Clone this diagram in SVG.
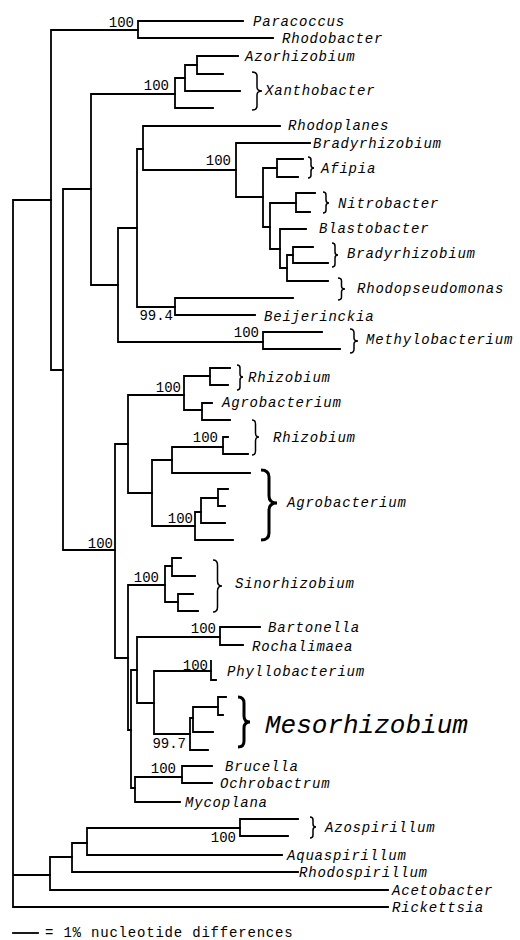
<svg xmlns="http://www.w3.org/2000/svg" width="520" height="940" viewBox="0 0 520 940">
<style>
.br{fill:none;stroke:#000;stroke-width:1.8;stroke-linecap:square;stroke-linejoin:miter}
.bc{fill:none;stroke:#000;stroke-width:1.5}
.bb{fill:none;stroke:#000;stroke-width:3}
.lb{font-family:"Liberation Mono","DejaVu Sans Mono",monospace;font-style:italic;font-size:14px;letter-spacing:0.8px;fill:#000}
.big{font-family:"Liberation Mono","DejaVu Sans Mono",monospace;font-style:italic;font-size:26px;fill:#000}
.bs{font-family:"Liberation Mono","DejaVu Sans Mono",monospace;font-size:14px;text-anchor:end;fill:#000}
.sc{font-family:"Liberation Mono","DejaVu Sans Mono",monospace;font-size:14px;letter-spacing:0.8px;fill:#000}
</style>
<rect width="520" height="940" fill="#fff"/>
<g id="connectors">
<path class="br" d="M51 200 H13 V907 H388 M13 875 H50"/>
<path class="br" d="M138 30 H51 V370 H63"/>
<path class="br" d="M243 21 H138 V38 H273"/>
<path class="br" d="M91 189 H63 V550 H115"/>
<path class="br" d="M175 94 H91 V285 H118"/>
<path class="br" d="M185 78 H175 V108 H213"/>
<path class="br" d="M197 65 H185 V91 H240"/>
<path class="br" d="M238 56 H197 V74 H223"/>
<path class="br" d="M137 228 H118 V342 H263"/>
<path class="br" d="M322 332 H263 V349 H340"/>
<path class="br" d="M143 149 H137 V307 H175"/>
<path class="br" d="M293 298 H175 V315 H255"/>
<path class="br" d="M280 126 H143 V170 H236"/>
<path class="br" d="M310 143 H236 V197 H263"/>
<path class="br" d="M277 168 H263 V227 H270"/>
<path class="br" d="M303 159 H277 V177 H298"/>
<path class="br" d="M296 203 H270 V249 H280"/>
<path class="br" d="M315 193 H296 V212 H310"/>
<path class="br" d="M306 229 H280 V268 H287"/>
<path class="br" d="M293 255 H287 V281 H328"/>
<path class="br" d="M313 247 H293 V263 H328"/>
<path class="br" d="M128 444 H115 V658 H128"/>
<path class="br" d="M184 395 H128 V493 H152"/>
<path class="br" d="M210 376 H184 V410 H202"/>
<path class="br" d="M230 368 H210 V385 H228"/>
<path class="br" d="M212 403 H202 V420 H230"/>
<path class="br" d="M172 460 H152 V526 H195"/>
<path class="br" d="M223 447 H172 V473 H250"/>
<path class="br" d="M228 437 H223 V454 H248"/>
<path class="br" d="M201 512 H195 V540 H233"/>
<path class="br" d="M218 498 H201 V523 H225"/>
<path class="br" d="M228 489 H218 V506 H225"/>
<path class="br" d="M165 585 H128 V730 H131"/>
<path class="br" d="M172 566 H165 V602 H178"/>
<path class="br" d="M181 558 H172 V576 H195"/>
<path class="br" d="M193 594 H178 V611 H198"/>
<path class="br" d="M137 670 H131 V788 H135"/>
<path class="br" d="M220 637 H137 V703 H154"/>
<path class="br" d="M260 627 H220 V645 H243"/>
<path class="br" d="M211 671 H154 V734 H190"/>
<path class="br" d="M211 661 V680 H216"/>
<path class="br" d="M193 718 H190 V750 H208"/>
<path class="br" d="M218 707 H193 V732 H213"/>
<path class="br" d="M226 697 H218 V715 H223"/>
<path class="br" d="M182 777 H135 V802 H180"/>
<path class="br" d="M212 766 H182 V783 H212"/>
<path class="br" d="M72 857 H50 V890 H388"/>
<path class="br" d="M87 843 H72 V872 H298"/>
<path class="br" d="M240 828 H87 V855 H282"/>
<path class="br" d="M298 819 H240 V836 H288"/>
<g id="support">
<text class="bs" x="134" y="27">100</text>
<text class="bs" x="169" y="90">100</text>
<text class="bs" x="231" y="165">100</text>
<text class="bs" x="173" y="320">99.4</text>
<text class="bs" x="259" y="337">100</text>
<text class="bs" x="181" y="392">100</text>
<text class="bs" x="218" y="442">100</text>
<text class="bs" x="193" y="523">100</text>
<text class="bs" x="113" y="548">100</text>
<text class="bs" x="159" y="582">100</text>
<text class="bs" x="216" y="633">100</text>
<text class="bs" x="208" y="670">100</text>
<text class="bs" x="186" y="748">99.7</text>
<text class="bs" x="176" y="773">100</text>
<text class="bs" x="236" y="842">100</text>
</g>
</g>
<g id="paracoccus"><text class="lb" x="253" y="26">Paracoccus</text></g>
<g id="rhodobacter"><text class="lb" x="282" y="43">Rhodobacter</text></g>
<g id="azorhizobium"><text class="lb" x="245" y="61">Azorhizobium</text></g>
<g id="xanthobacter"><path class="bc" d="M252 72 Q257 72 257 76 V87 Q257 91 262 91 Q257 91 257 95 V106 Q257 110 252 110"/><text class="lb" x="265" y="95">Xanthobacter</text></g>
<g id="rhodoplanes"><text class="lb" x="288" y="130">Rhodoplanes</text></g>
<g id="bradyrhizobium1"><text class="lb" x="313" y="148">Bradyrhizobium</text></g>
<g id="afipia"><path class="bc" d="M308 157 Q311 157 311 160 V165 Q311 168 314 168 Q311 168 311 171 V175 Q311 178 308 178"/><text class="lb" x="321" y="173">Afipia</text></g>
<g id="nitrobacter"><path class="bc" d="M323 192 Q326 192 326 195 V200 Q326 203 329 203 Q326 203 326 206 V210 Q326 213 323 213"/><text class="lb" x="338" y="208">Nitrobacter</text></g>
<g id="blastobacter"><text class="lb" x="319" y="233">Blastobacter</text></g>
<g id="bradyrhizobium2"><path class="bc" d="M332 243 Q335 243 335 246 V252 Q335 255 338 255 Q335 255 335 258 V264 Q335 267 332 267"/><text class="lb" x="347" y="258">Bradyrhizobium</text></g>
<g id="rhodopseudomonas"><path class="bc" d="M338 278 Q341.5 278 341.5 281 V286 Q341.5 289 345 289 Q341.5 289 341.5 292 V297 Q341.5 300 338 300"/><text class="lb" x="357" y="293">Rhodopseudomonas</text></g>
<g id="beijerinckia"><text class="lb" x="264" y="321">Beijerinckia</text></g>
<g id="methylobacterium"><path class="bc" d="M350 329 Q354 329 354 333 V338 Q354 341 358 341 Q354 341 354 344 V349 Q354 353 350 353"/><text class="lb" x="366" y="344">Methylobacterium</text></g>
<g id="rhizobium1"><path class="bc" d="M237 365 Q240 365 240 368 V374 Q240 377 243 377 Q240 377 240 380 V387 Q240 390 237 390"/><text class="lb" x="248" y="382">Rhizobium</text></g>
<g id="agrobacterium1"><text class="lb" x="222" y="407">Agrobacterium</text></g>
<g id="rhizobium2"><path class="bc" d="M252 420 Q255.5 420 255.5 424 V433 Q255.5 437 259 437 Q255.5 437 255.5 441 V451 Q255.5 455 252 455"/><text class="lb" x="273" y="442">Rhizobium</text></g>
<g id="agrobacterium2"><path class="bb" d="M261 470 Q269 470 269 477 V496 Q269 503 277 503 Q269 503 269 510 V533 Q269 540 261 540"/><text class="lb" x="287" y="507">Agrobacterium</text></g>
<g id="sinorhizobium"><path class="bc" d="M213 560 Q217.5 560 217.5 565 V581 Q217.5 586 222 586 Q217.5 586 217.5 591 V607 Q217.5 612 213 612"/><text class="lb" x="235" y="588">Sinorhizobium</text></g>
<g id="bartonella"><text class="lb" x="268" y="632">Bartonella</text></g>
<g id="rochalimaea"><text class="lb" x="252" y="651">Rochalimaea</text></g>
<g id="phyllobacterium"><text class="lb" x="227" y="676">Phyllobacterium</text></g>
<g id="mesorhizobium"><path class="bb" d="M238 697 Q244 697 244 703 V716 Q244 722 250 722 Q244 722 244 728 V741 Q244 747 238 747"/><text class="big" x="265" y="733">Mesorhizobium</text></g>
<g id="brucella"><text class="lb" x="225" y="771">Brucella</text></g>
<g id="ochrobactrum"><text class="lb" x="220" y="788">Ochrobactrum</text></g>
<g id="mycoplana"><text class="lb" x="185" y="807">Mycoplana</text></g>
<g id="azospirillum"><path class="bc" d="M310 817 Q313 817 313 820 V824 Q313 827 316 827 Q313 827 313 830 V835 Q313 838 310 838"/><text class="lb" x="325" y="832">Azospirillum</text></g>
<g id="aquaspirillum"><text class="lb" x="287" y="860">Aquaspirillum</text></g>
<g id="rhodospirillum"><text class="lb" x="299" y="877">Rhodospirillum</text></g>
<g id="acetobacter"><text class="lb" x="392" y="895">Acetobacter</text></g>
<g id="rickettsia"><text class="lb" x="392" y="912">Rickettsia</text></g>
<g id="scale"><path class="br" d="M13 933 H38"/><text class="sc" x="45" y="937">= 1% nucleotide differences</text></g>
</svg>
